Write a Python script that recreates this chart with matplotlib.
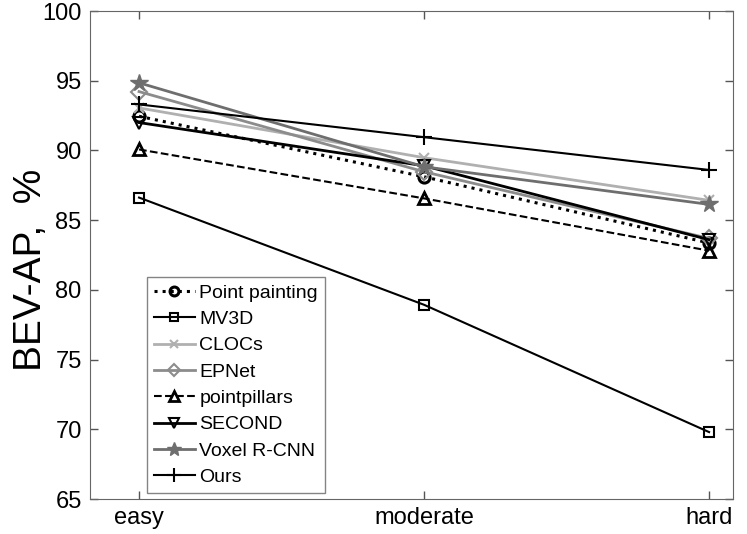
import matplotlib

matplotlib.use("Agg")
import matplotlib.pyplot as plt

plt.rcParams["font.family"] = ["Liberation Sans", "DejaVu Sans"]

categories = ["easy", "moderate", "hard"]
methods = ["Point painting", "MV3D", "CLOCs", "EPNet", "pointpillars", "SECOND", "Voxel R-CNN", "Ours"]
point_painting = [92.45, 88.11, 83.36]
mv3d = [86.62, 78.93, 69.80]
clocs = [93.05, 89.48, 86.42]
epnet = [94.22, 88.47, 83.69]
pointpillars = [90.07, 86.56, 82.81]
second = [92.0, 88.9, 83.6]
voxel_rcnn = [94.85, 88.83, 86.13]
ours = [93.3, 90.95, 88.6]

series = [point_painting, mv3d, clocs, epnet, pointpillars, second, voxel_rcnn, ours]
styles = [
    dict(color="black", ls=":", lw=2.2, marker="o", ms=8, mfc="none", mew=2.2),
    dict(color="black", ls="-", lw=1.5, marker="s", ms=7, mfc="none", mew=1.5),
    dict(color="#b0b0b0", ls="-", lw=2.0, marker="x", ms=7, mew=1.5),
    dict(color="#8c8c8c", ls="-", lw=2.0, marker="D", ms=8, mfc="none", mew=1.5),
    dict(color="black", ls="--", lw=1.5, marker="^", ms=9, mfc="none", mew=2.0),
    dict(color="black", ls="-", lw=2.0, marker="v", ms=9, mfc="none", mew=1.5),
    dict(color="#6e6e6e", ls="-", lw=2.0, marker="*", ms=13, mew=1.0),
    dict(color="black", ls="-", lw=1.5, marker="+", ms=12, mew=1.5),
]

fig = plt.figure(figsize=(7.47, 5.34), dpi=100)
ax = fig.add_axes([0.1205, 0.0655, 0.8608, 0.9139])
x = [1, 2, 3]
for name, vals, st in zip(methods, series, styles):
    ax.plot(x, vals, label=name, **st)

ax.set_xlim(0.828, 3.084)
ax.set_ylim(65, 100)
ax.set_xticks(x)
ax.set_xticklabels(categories)
ax.set_yticks(range(65, 101, 5))
ax.tick_params(direction="in", length=6, width=1, labelsize=17, top=True, right=True,
               colors="#555555", labelcolor="black", pad=6)
for sp in ax.spines.values():
    sp.set_color("#666666")
ax.set_ylabel("BEV-AP,  %", fontsize=28, va="center")
ax.yaxis.set_label_coords(-0.0918, 0.469)

ax.legend(loc="lower left", bbox_to_anchor=(0.0886, 0.0123), borderaxespad=0,
          fontsize=14, frameon=True, fancybox=False, edgecolor="#666666",
          handlelength=2.1, handletextpad=0.25, labelspacing=0.45, borderpad=0.35,
          markerscale=0.8)

plt.savefig("out.png", dpi=100)
plt.close()
